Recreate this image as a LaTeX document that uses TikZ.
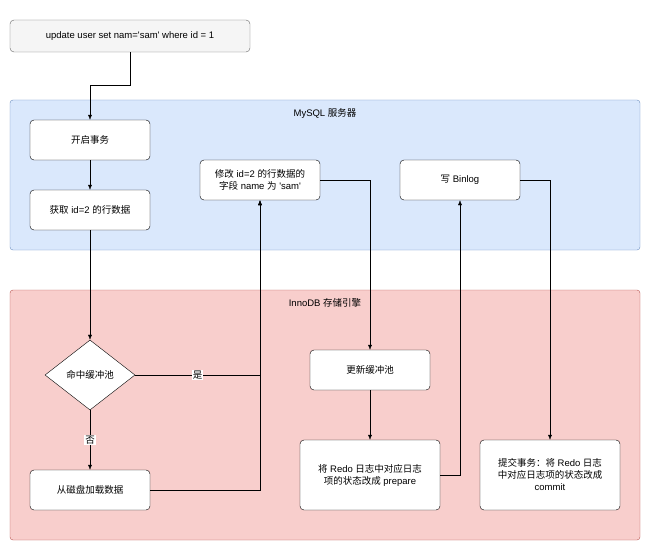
\documentclass[tikz,border=0pt]{standalone}
\usepackage{fontspec}
\setmainfont{Liberation Sans}
\newfontfamily\cjk{Noto Sans CJK SC}
\usetikzlibrary{positioning,arrows.meta,shapes.geometric}
\definecolor{mysqlfill}{HTML}{DAE8FC}
\definecolor{mysqldraw}{HTML}{6C8EBF}
\definecolor{innofill}{HTML}{F8CECC}
\definecolor{innodraw}{HTML}{B85450}
\definecolor{startfill}{HTML}{F5F5F5}
\definecolor{startdraw}{HTML}{666666}
\begin{document}
\begin{tikzpicture}[
    x=1pt, y=-1pt,
    >={Latex[length=5pt,width=4pt]},
    every node/.style={font=\fontsize{9.5}{12}\selectfont},
    proc/.style={rectangle, draw, rounded corners=4pt, fill=white, minimum width=120pt, minimum height=40pt, align=center},
    wide/.style={proc, minimum width=140pt, minimum height=70pt},
    group/.style={draw, rounded corners=3pt},
    lbl/.style={fill=white, inner sep=1pt}
]
\useasboundingbox (0,0) rectangle (651,551);

% Containers
\draw[group, fill=mysqlfill, draw=mysqldraw] (10,100) rectangle (640,250);
\node at (325,113) {MySQL {\cjk 服务器}};
\draw[group, fill=innofill, draw=innodraw] (10,290) rectangle (640,540);
\node at (325,303) {InnoDB {\cjk 存储引擎}};

% SQL statement
\node[proc, fill=startfill, draw=startdraw, minimum width=240pt, minimum height=32pt] (sql) at (130,36) {update user set nam=\textquotesingle sam\textquotesingle\ where id = 1};

% MySQL server steps
\node[proc] (begin) at (90,140) {\cjk 开启事务};
\node[proc] (fetch) at (90,210) {{\cjk 获取} id=2 {\cjk 的行数据}};
\node[proc] (modify) at (260,180) {{\cjk 修改} id=2 {\cjk 的行数据的}\\{\cjk 字段} name {\cjk 为} \textquotesingle sam\textquotesingle};
\node[proc] (binlog) at (460,180) {{\cjk 写} Binlog};

% InnoDB steps
\node[diamond, draw, fill=white, minimum width=90pt, minimum height=70pt, aspect=1.3, inner sep=0pt] (hit) at (90,375) {\cjk 命中缓冲池};
\node[proc] (load) at (90,490) {\cjk 从磁盘加载数据};
\node[proc] (update) at (370,370) {\cjk 更新缓冲池};
\node[wide] (prepare) at (370,475) {{\cjk 将} Redo {\cjk 日志中对应日志}\\{\cjk 项的状态改成} prepare};
\node[wide] (commit) at (550,475) {{\cjk 提交事务：将} Redo {\cjk 日志}\\{\cjk 中对应日志项的状态改成}\\commit};

\coordinate (c1) at (130,85);
\coordinate (c2) at (90,85);

% Connectors
\draw[->] (sql.south) -- (c1) -- (c2) -- (begin.north);
\draw[->] (begin) -- (fetch);
\draw[->] (fetch) -- (hit);
\draw[->] (hit.east) -| node[lbl, pos=0.25] {\cjk 是} (modify.south);
\draw[->] (hit) -- node[lbl] {\cjk 否} (load);
\draw[->] (load.east) -| (modify.south);
\draw[->] (modify.east) -| (update.north);
\draw[->] (update) -- (prepare);
\draw[->] (prepare.east) -| (binlog.south);
\draw[->] (binlog.east) -| (commit.north);
\end{tikzpicture}
\end{document}
